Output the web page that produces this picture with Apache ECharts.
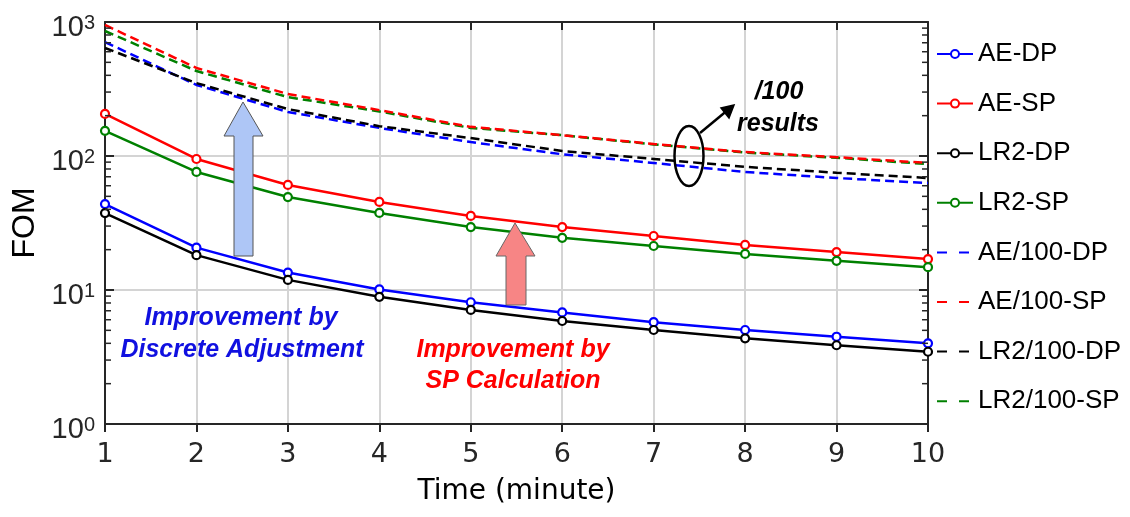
<!DOCTYPE html>
<html><head><meta charset="utf-8">
<script src="https://cdn.jsdelivr.net/npm/echarts@6/dist/echarts.min.js"></script>
<style>html,body{margin:0;padding:0;background:#fff}#c{width:1130px;height:517px}</style>
</head><body><div id="c"></div>
<script>
const times = [1,2,3,4,5,6,7,8,9,10];
const aeDP = [43.8,20.7,13.5,10.1,8.1,6.8,5.75,5.03,4.48,4.0];
const aeSP = [206,95,60.8,45.4,35.7,29.5,25.3,21.7,19.2,17.0];
const lr2DP = [37.5,18.2,11.9,8.9,7.1,5.87,5.03,4.36,3.87,3.46];
const lr2SP = [154,76,49.4,37.6,29.5,24.5,21.3,18.6,16.5,14.8];
const ae100DP = [709,339,213,162,127,103,88.7,76,68.5,62.9];
const ae100SP = [950,454,290,220,165,143,123,107,98,88.7];
const lr2100DP = [640,350,224,167,136,109,95,83,75,68.5];
const lr2100SP = [857,431,275,215,162,143,122,106,97,87];
const solidNames = ['AE-DP','AE-SP','LR2-DP','LR2-SP'];
const dashedNames = ['AE/100-DP','AE/100-SP','LR2/100-DP','LR2/100-SP'];
const minorTickValues = [2,3,4,5,6,7,8,9,20,30,40,50,60,70,80,90,200,300,400,500,600,700,800,900];

const FONT = 'Liberation Sans, Arial, sans-serif';
const WIDE = 'DejaVu Sans, sans-serif';
const AX = '#262626';
const chart = echarts.init(document.getElementById('c'), null, {renderer:'canvas'});
function pairs(arr){ return arr.map((v,i)=>[times[i], v]); }
function solid(name, data, color){
  return {name, type:'line', data:pairs(data), symbol:'circle', symbolSize:8,
    itemStyle:{color:'#fff', borderColor:color, borderWidth:2.2},
    lineStyle:{color, width:2.5}, color, z:3};
}
function dashed(name, data, color){
  return {name, type:'line', data:pairs(data), symbol:'none',
    lineStyle:{color, width:2.5, type:[9,5]}, color, itemStyle:{color}, z:2};
}
const legendData = solidNames.map(n=>({name:n, itemStyle:{color:'#fff', borderWidth:2}}))
  .concat(dashedNames.map(n=>({name:n, itemStyle:{color:'rgba(0,0,0,0)', borderColor:'rgba(0,0,0,0)', borderWidth:0, opacity:0}, lineStyle:{type:[10,12]}})));
const option = {
  animation:false,
  grid:{left:105, right:202, top:22, bottom:93, containLabel:false, outerBoundsMode:'none'},
  legend:{
    data:legendData, orient:'vertical', left:931, top:36, itemGap:23.6,
    itemWidth:36, itemHeight:10, textStyle:{fontFamily:FONT, fontSize:26, color:'#000'}
  },
  xAxis:[{
    type:'value', min:1, max:10, interval:1, position:'bottom',
    name:'Time (minute)', nameLocation:'middle', nameGap:54,
    nameTextStyle:{fontFamily:WIDE, fontSize:28, color:'#000'},
    axisLine:{lineStyle:{color:AX, width:2}},
    axisTick:{inside:false, length:8, lineStyle:{color:AX, width:2}},
    axisLabel:{fontFamily:WIDE, fontSize:27, color:AX, margin:17},
    splitLine:{show:true, lineStyle:{color:'#d4d4d4', width:2}}
  },{
    type:'value', min:1, max:10, interval:1, position:'top',
    axisLine:{show:true, lineStyle:{color:AX, width:2}},
    axisTick:{show:true, inside:true, length:8, lineStyle:{color:AX, width:2}},
    axisLabel:{show:false}, splitLine:{show:false}
  }],
  yAxis:[{
    type:'log', logBase:10, min:1, max:1000, position:'left',
    name:'FOM', nameLocation:'middle', nameGap:64,
    nameTextStyle:{fontFamily:FONT, fontSize:32, color:'#000'},
    axisLine:{show:true, lineStyle:{color:AX, width:2}},
    axisTick:{show:true, inside:true, length:9, lineStyle:{color:AX, width:2}},
    axisLabel:{
      margin:10, lineHeight:40, padding:[12,0,0,0],
      formatter:function(v){ const e = Math.round(Math.log10(v)); return '{b|10}{s|'+e+'}'; },
      rich:{
        b:{fontFamily:FONT, fontSize:29, color:AX, lineHeight:29, verticalAlign:'bottom'},
        s:{fontFamily:FONT, fontSize:20, color:AX, lineHeight:20, verticalAlign:'top'}
      }
    },
    splitLine:{show:true, lineStyle:{color:'#d4d4d4', width:2}}
  },{
    type:'log', logBase:10, min:1, max:1000, position:'right',
    axisLine:{show:true, lineStyle:{color:AX, width:2}},
    axisTick:{show:true, inside:true, length:9, lineStyle:{color:AX, width:2}},
    axisLabel:{show:false}, splitLine:{show:false}
  }],
  series:[
    {
      name:'minorTicks', type:'custom', data:minorTickValues.map(v=>[1,v]), silent:true, clip:false, z:5,
      renderItem:function(params, api){
        const v = api.value(1);
        const l = api.coord([1, v]);
        const r = api.coord([10, v]);
        const st = {stroke:AX, lineWidth:1.5};
        return {type:'group', children:[
          {type:'line', shape:{x1:l[0], y1:l[1], x2:l[0]+6, y2:l[1]}, style:st},
          {type:'line', shape:{x1:r[0]-6, y1:r[1], x2:r[0], y2:r[1]}, style:st}
        ]};
      }
    },
    dashed('AE/100-DP', ae100DP, '#0000ff'),
    dashed('LR2/100-DP', lr2100DP, '#000000'),
    dashed('LR2/100-SP', lr2100SP, '#008000'),
    dashed('AE/100-SP', ae100SP, '#ff0000'),
    solid('AE-DP', aeDP, '#0000ff'),
    solid('AE-SP', aeSP, '#ff0000'),
    solid('LR2-DP', lr2DP, '#000000'),
    solid('LR2-SP', lr2SP, '#008000')
  ],
  graphic:[
    {type:'polygon', z:10, shape:{points:[[243,102],[263,136],[253,136],[253,256],[234,256],[234,136],[224,136]]},
      style:{fill:'#aec6f6', stroke:'#555', lineWidth:1}},
    {type:'polygon', z:10, shape:{points:[[515,223],[535,256],[526,256],[526,305],[506,305],[506,256],[496,256]]},
      style:{fill:'#f78585', stroke:'#666', lineWidth:1}},
    {type:'ellipse', z:10, shape:{cx:689, cy:156, rx:14.5, ry:30}, style:{fill:'none', stroke:'#000', lineWidth:2.5}},
    {type:'line', z:10, shape:{x1:700, y1:133, x2:729, y2:109}, style:{stroke:'#000', lineWidth:2.5}},
    {type:'polygon', z:10, shape:{points:[[734,105],[721,108],[729,118]]}, style:{fill:'#000', stroke:'#000', lineWidth:1.5}},
    {type:'text', z:10, style:{text:'/100', x:779, y:92, align:'center', verticalAlign:'middle', font:'italic bold 25px '+FONT, fill:'#000'}},
    {type:'text', z:10, style:{text:'results', x:778, y:124, align:'center', verticalAlign:'middle', font:'italic bold 25px '+FONT, fill:'#000'}},
    {type:'text', z:10, style:{text:'Improvement by', x:241, y:318, align:'center', verticalAlign:'middle', font:'italic bold 25px '+FONT, fill:'#1010e0'}},
    {type:'text', z:10, style:{text:'Discrete Adjustment', x:242, y:350, align:'center', verticalAlign:'middle', font:'italic bold 25px '+FONT, fill:'#1010e0'}},
    {type:'text', z:10, style:{text:'Improvement by', x:513, y:350, align:'center', verticalAlign:'middle', font:'italic bold 25px '+FONT, fill:'#ff0000'}},
    {type:'text', z:10, style:{text:'SP Calculation', x:513, y:381, align:'center', verticalAlign:'middle', font:'italic bold 25px '+FONT, fill:'#ff0000'}}
  ]
};
chart.setOption(option);
</script></body></html>
